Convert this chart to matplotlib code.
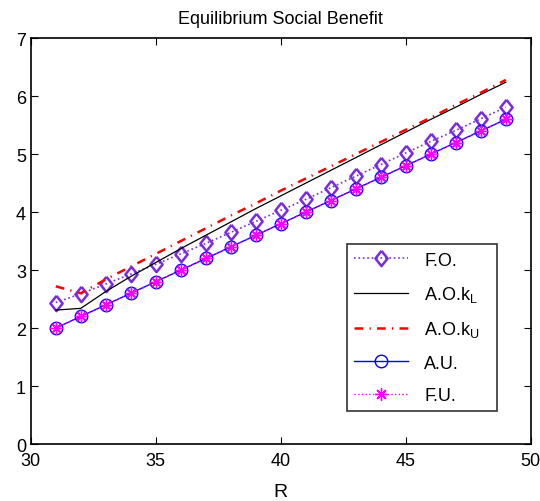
import numpy as np
import matplotlib.pyplot as plt

plt.rcParams['font.family'] = ['Liberation Sans', 'DejaVu Sans']

# donnees
R = [31, 32, 33, 34, 35, 36, 37, 38, 39, 40, 41, 42, 43, 44, 45, 46, 47, 48, 49]
fo = [2.44, 2.59, 2.76, 2.93, 3.10, 3.28, 3.46, 3.65, 3.84, 4.03,
      4.22, 4.42, 4.62, 4.82, 5.02, 5.22, 5.41, 5.61, 5.81]
ao_kl = [2.31, 2.34, 2.63, 2.89, 3.13, 3.37, 3.60, 3.83, 4.06, 4.28,
         4.50, 4.72, 4.94, 5.16, 5.38, 5.60, 5.81, 6.03, 6.24]
ao_ku = [2.72, 2.60, 2.84, 3.06, 3.28, 3.50, 3.72, 3.94, 4.15, 4.37,
         4.58, 4.79, 5.00, 5.21, 5.42, 5.63, 5.85, 6.06, 6.28]
au = [2.0, 2.2, 2.4, 2.6, 2.8, 3.0, 3.2, 3.4, 3.6, 3.8,
      4.0, 4.2, 4.4, 4.6, 4.8, 5.0, 5.2, 5.4, 5.6]
fu = [2.0, 2.2, 2.4, 2.6, 2.8, 3.0, 3.2, 3.4, 3.6, 3.8,
      4.0, 4.2, 4.4, 4.6, 4.8, 5.0, 5.2, 5.4, 5.6]

# losange un peu plus haut que large, comme matlab
losange = [(0, 1), (0.8, 0), (0, -1), (-0.8, 0), (0, 1)]

fig = plt.figure(figsize=(5.4, 5.02), dpi=100)
ax = fig.add_axes([0.057, 0.1135, 0.926, 0.8085])

ax.plot(R, fo, ':', color='#7a2be0', lw=1.2, marker=losange, ms=11,
        mfc='none', mec='#7a2be0', mew=1.8, label='F.O.')
ax.plot(R, ao_kl, '-', color='black', lw=0.9, label='A.O.k$_\\mathregular{L}$')
ax.plot(R, ao_ku, color='red', lw=1.8, dashes=[3.5, 2.5, 0.5, 2.5],
        label='A.O.k$_\\mathregular{U}$')
ax.plot(R, au, '-', color='blue', lw=1.0, marker='o', ms=9,
        mfc='none', mec='blue', mew=1.0, label='A.U.')
ax.plot(R, fu, ':', color='#ff00ff', lw=1.0, marker=(8, 2, 0), ms=9,
        mec='#ff00ff', mew=1.0, label='F.U.')

ax.set_xlim(30, 50)
ax.set_ylim(0, 7)
ax.set_xticks([30, 35, 40, 45, 50])
ax.set_yticks(range(8))
ax.tick_params(direction='in', top=True, right=True, length=5, labelsize=13)
ax.tick_params(axis='x', pad=6)
for s in ax.spines.values():
    s.set_linewidth(1.2)

ax.set_title('Equilibrium Social Benefit', fontsize=13, pad=11)
ax.set_xlabel('R', fontsize=14, labelpad=10)

leg = ax.legend(loc='lower left', bbox_to_anchor=(0.632, 0.081, 0.30, 0.397),
                mode='expand', fontsize=13, fancybox=False, edgecolor='black',
                handlelength=3, handletextpad=0.9, borderaxespad=0,
                labelspacing=0.85)
leg.get_frame().set_linewidth(1.2)

plt.savefig('out.png', dpi=100)
